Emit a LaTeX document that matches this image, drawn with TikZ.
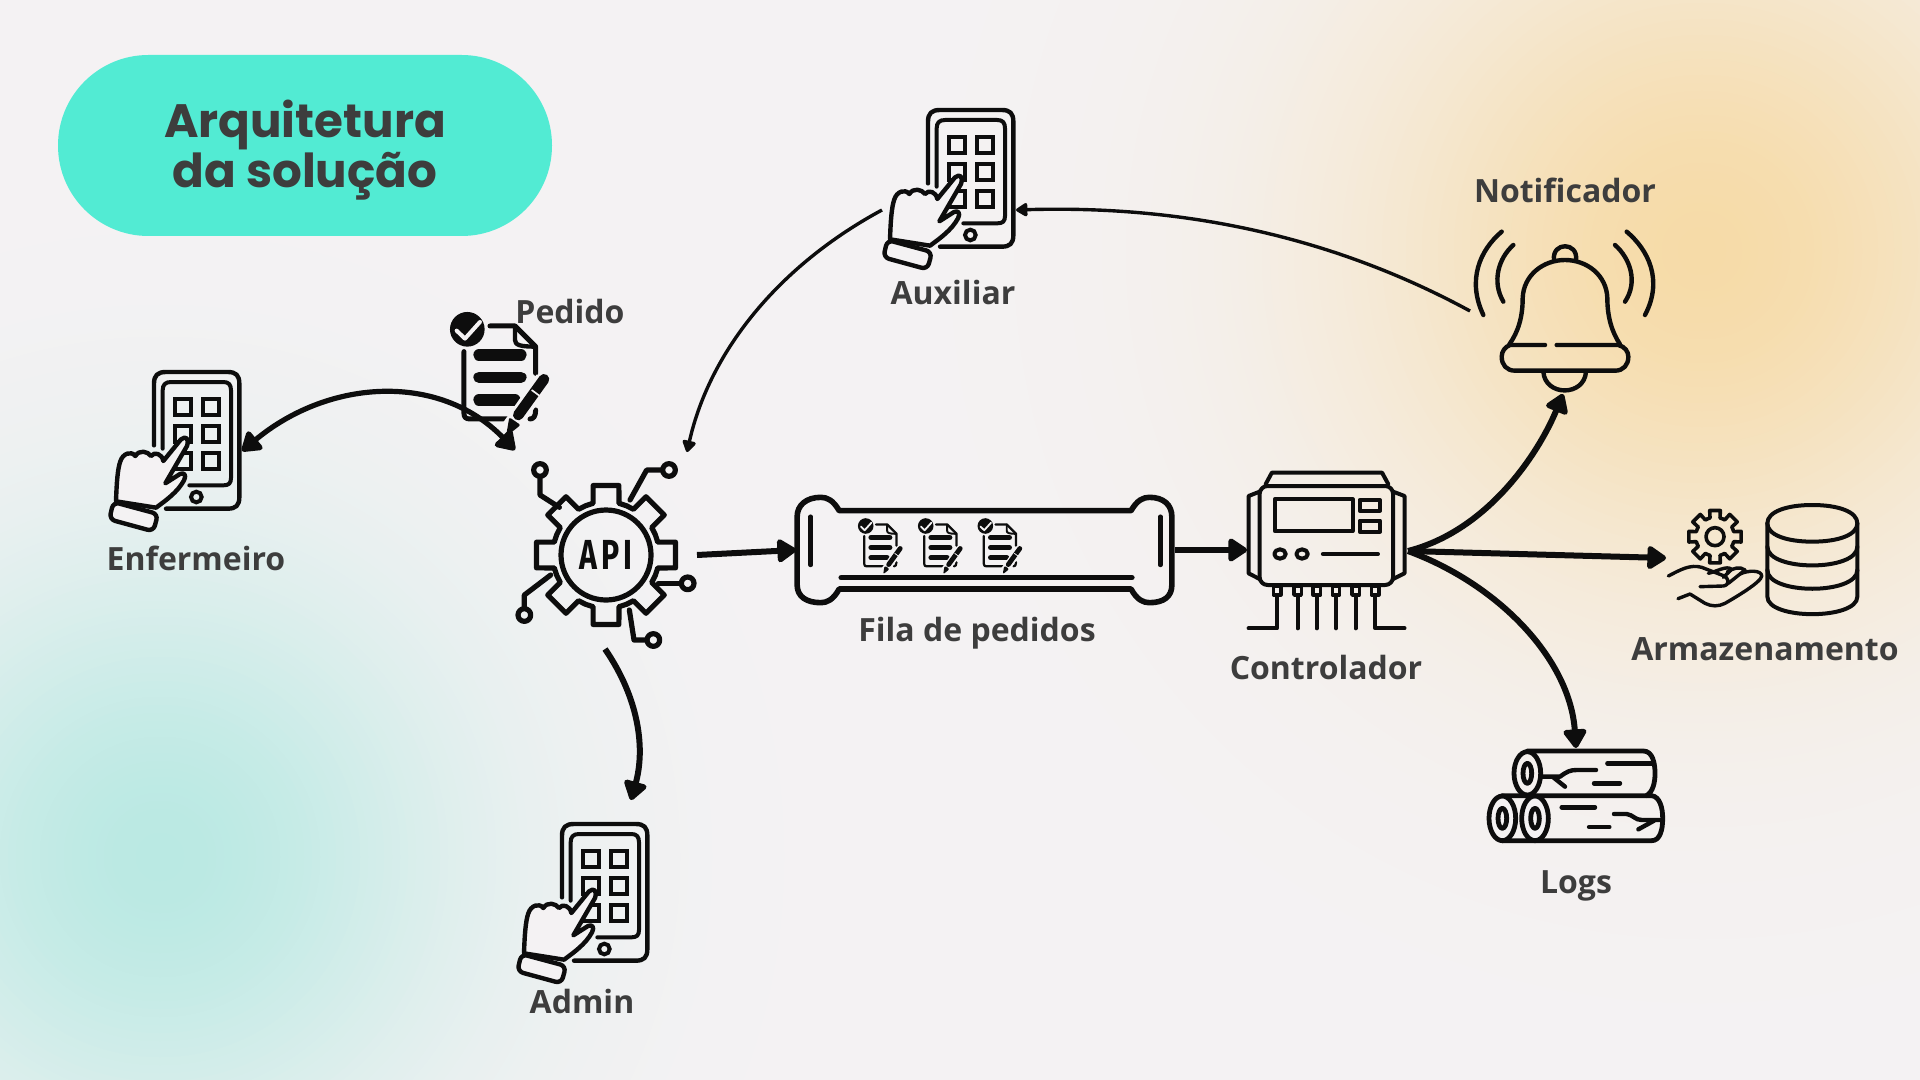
\documentclass[tikz,border=0pt]{standalone}
\usepackage{fontspec}
\setmainfont{Open Sans}
\newfontfamily\titlefont{Poppins}
\newfontfamily\apifont[FakeStretch=.72,LetterSpace=10]{Fira Sans}
\usetikzlibrary{arrows.meta}
\definecolor{bgc}{HTML}{F4F2F3}
\definecolor{ink}{HTML}{0D0D0D}
\definecolor{txt}{HTML}{3D3D3D}
\definecolor{pill}{HTML}{52EBD3}
\definecolor{oa}{HTML}{F6DBA8}
\definecolor{ta}{HTML}{BAE9E3}
\tikzset{
  zoomz/.style args={#1/#2}{shift={(#1,#2)},x=.16667pt,y=-.16667pt},
  ic/.style={draw=ink,line width=2.2pt,line cap=round,line join=round},
  lbl/.style={font=\fontsize{16}{18}\selectfont\bfseries,text=txt,anchor=base,inner sep=0pt},
  thinarrow/.style={draw=ink,line width=1.7pt,-{Triangle[round,length=6.5pt,width=7.5pt]}},
  boldarrow/.style={draw=ink,line width=3pt,-{Triangle[round,length=10.5pt,width=13pt]}},
  bothbold/.style={draw=ink,line width=2.6pt,{Triangle[round,length=10.5pt,width=13pt]}-{Triangle[round,length=10.5pt,width=13pt]}}
}
\newcommand{\tabletpic}[2]{%
\begin{scope}[zoomz={#1}/{#2}]
  \draw[ic] (234,310) -- (234,125) .. controls (234,100) and (245,90) .. (270,90) -- (455,90) .. controls (480,90) and (490,100) .. (490,125) -- (490,465) .. controls (490,490) and (480,500) .. (455,500) -- (270,500);
  \draw[ic,line width=2pt] (260,320) -- (260,145) .. controls (260,128) and (268,120) .. (285,120) -- (442,120) .. controls (458,120) and (465,128) .. (465,145) -- (465,408) .. controls (465,424) and (458,430) .. (442,430) -- (340,430);
  \foreach \qx/\qy in {297/172,380/172,297/252,380/252,297/332,380/332}
    \draw[draw=ink,line width=2pt] (\qx,\qy) rectangle ++(48,48);
  \draw[draw=ink,line width=2pt] (361,465) circle[radius=16];
  \draw[ic,fill=bgc] (120,478) .. controls (122,420) and (125,380) .. (133,358) .. controls (140,335) and (165,325) .. (178,342) .. controls (190,322) and (215,328) .. (225,342) .. controls (235,328) and (258,335) .. (262,357) -- (315,292) .. controls (330,280) and (340,290) .. (333,312) -- (268,424) -- (312,396) .. controls (325,390) and (332,400) .. (324,415) .. controls (305,450) and (270,475) .. (240,497) -- cycle;
  \draw[ic,fill=bgc,rounded corners=3pt] (112,480) -- (246,516) -- (232,568) -- (100,532) -- cycle;
\end{scope}}
\newcommand{\docpic}[3]{%
\pgfmathsetmacro\uu{#3*0.16667}
\begin{scope}[shift={(#1,#2)},x=\uu pt,y=-\uu pt]
\begin{scope}[shift={(-142,-118)},line cap=round,line join=round]
  \draw[ink,line width=15*\uu pt] (210,108) -- (285,108) -- (347,170) -- (347,250);
  \draw[ink,line width=13*\uu pt] (285,108) -- (285,150) .. controls (285,165) and (300,170) .. (347,170);
  \draw[ink,line width=15*\uu pt] (132,185) -- (132,370) .. controls (132,382) and (138,387) .. (150,387) -- (280,387);
  \draw[ink,line width=15*\uu pt] (347,360) .. controls (347,380) and (340,387) .. (330,387);
  \foreach \ly/\lr in {195/303,262/303,330/285}
    \draw[ink,line width=34*\uu pt] (177,\ly) -- (\lr,\ly);
  \fill[ink] (142,118) circle[radius=52];
  \draw[bgc,line width=12*\uu pt] (110,122) -- (135,146) -- (180,96);
  \draw[bgc,line width=52*\uu pt,line cap=butt] (372,268) -- (262,425);
  \draw[ink,line width=32*\uu pt] (372,268) -- (295,375);
  \draw[bgc,line width=5*\uu pt,line cap=butt] (335,300) -- (362,320);
  \fill[ink,rounded corners=1pt] (268,382) -- (302,405) -- (258,440) -- cycle;
\end{scope}
\end{scope}}
\newcommand{\gearline}[6]{% cx cy root outer d1 d2
\begin{scope}[shift={(#1,#2)}]
  \draw[ic,line width=#6] (-22.5:#3)
  \foreach \ga in {0,45,...,315}{ -- (\ga-#5:#3) -- (\ga-#5+3.5:#4) -- (\ga+#5-3.5:#4) -- (\ga+#5:#3) -- (\ga+22.5:#3)} -- cycle;
\end{scope}}
\begin{document}
\begin{tikzpicture}[x=.5pt,y=-.5pt]
\useasboundingbox (0,0) rectangle (1920,1080);
\fill[bgc] (0,0) rectangle (1920,1080);
\begin{scope}
  \clip (0,0) rectangle (1920,1080);
  \foreach \rr in {800,792,...,4}{
    \pgfmathsetmacro\pp{100*exp(-(\rr/345)*(\rr/345))}
    \fill[oa!\pp!bgc] (1702,251) circle[radius=\rr];
  }
  \foreach \rr in {680,672,...,4}{
    \pgfmathsetmacro\pp{100*exp(-(\rr/295)*(\rr/295))}
    \fill[ta!\pp!bgc] (160,857) circle[radius=\rr];
  }
\end{scope}
% title
\fill[pill,rounded corners=45.2pt] (58,55) rectangle (552,236);
\node[font=\titlefont\fontsize{23.4}{25}\selectfont\bfseries,text=txt,align=center,inner sep=0pt] (title) at (305,150) {Arquitetura\\da solução};

% tablets
\tabletpic{850}{80}
\tabletpic{76}{342}
\tabletpic{484}{794}

% order documents
\docpic{467.3}{329.3}{1}
\docpic{865.7}{526}{.45}
\docpic{925.7}{526}{.45}
\docpic{985.3}{526}{.45}

% API gear
\begin{scope}[zoomz={420}/{290}]
  \gearline{558}{795}{160}{212}{14}{2.6pt}
  \draw[ic,line width=2.6pt] (558,795) circle[radius=135];
  \foreach \cx/\cy in {360/540,747/540,803/880,700/1050,313/975}
    \draw[ic,line width=2.6pt] (\cx,\cy) circle[radius=19];
  \draw[ic,line width=2.6pt] (360,560) -- (360,615) -- (418,652);
  \draw[ic,line width=2.6pt] (727,540) -- (680,540) -- (630,630);
  \draw[ic,line width=2.6pt] (783,880) -- (715,880);
  \draw[ic,line width=2.6pt] (680,1050) -- (642,1050) -- (628,960);
  \draw[ic,line width=2.6pt] (313,955) -- (313,915) -- (392,855);
  \node[font=\apifont\fontsize{21}{21}\selectfont\bfseries,text=ink,inner sep=0pt] (apitext) at (558,795) {API};
\end{scope}

% queue and controller
\begin{scope}[shift={(780,470)},x=.20408pt,y=-.16667pt]
  \draw[ic,line width=2.8pt] (145,122) -- (860,122) .. controls (875,90) and (890,82) .. (905,82) .. controls (940,82) and (960,105) .. (960,140) -- (960,345) .. controls (960,380) and (940,398) .. (905,398) .. controls (890,398) and (875,390) .. (860,357) -- (145,357) .. controls (130,390) and (115,398) .. (100,398) .. controls (65,398) and (42,380) .. (42,345) -- (42,140) .. controls (42,105) and (65,82) .. (100,82) .. controls (115,82) and (130,90) .. (145,122) -- cycle;
  \draw[ic,line width=2.2pt] (75,140) -- (75,285);
  \draw[ic,line width=2.2pt] (932,140) -- (932,285);
  \draw[ic,line width=2.8pt] (150,323) -- (862,323);
  % controller
  \draw[ic,line width=2pt] (1190,42) -- (1205,8) -- (1475,8) -- (1490,42);
  \draw[ic,line width=2pt,rounded corners=4pt] (1175,48) rectangle (1502,345);
  \draw[ic,line width=2pt] (1175,65) -- (1148,78) -- (1148,310) -- (1175,327);
  \draw[ic,line width=2pt] (1502,65) -- (1530,78) -- (1530,310) -- (1502,327);
  \draw[ic,line width=2pt] (1212,88) rectangle (1403,183);
  \draw[ic,line width=2pt] (1420,90) rectangle (1470,122);
  \draw[ic,line width=2pt] (1420,152) rectangle (1470,185);
  \draw[ic,line width=2pt] (1225,252) ellipse[x radius=14,y radius=14];
  \draw[ic,line width=2pt] (1279,252) ellipse[x radius=14,y radius=14];
  \draw[ic,line width=2pt] (1330,252) -- (1465,252);
  \foreach \px in {1218,1268,1315,1362,1410,1458}{
    \draw[ic,line width=1.7pt] (\px-9,348) rectangle (\px+9,375);
  }
  \foreach \px in {1268,1315,1362,1410}
    \draw[ic,line width=2pt] (\px,375) -- (\px,475);
  \draw[ic,line width=2pt] (1218,375) -- (1218,475) -- (1148,475);
  \draw[ic,line width=2pt] (1458,375) -- (1458,475) -- (1530,475);
\end{scope}

% bell
\begin{scope}[zoomz={1450}/{210}]
  \draw[ic] (155,65) .. controls (90,120) and (50,210) .. (100,315);
  \draw[ic] (190,105) .. controls (145,145) and (125,215) .. (160,275);
  \draw[ic] (530,65) .. controls (595,120) and (640,210) .. (585,315);
  \draw[ic] (495,105) .. controls (540,145) and (565,215) .. (525,275);
  \draw[ic] (312,150) .. controls (305,95) and (385,95) .. (378,150);
  \draw[ic] (178,403) .. controls (205,365) and (218,320) .. (218,265) .. controls (220,195) and (280,150) .. (345,150) .. controls (410,150) and (470,195) .. (472,265) .. controls (472,320) and (485,365) .. (510,403);
  \draw[ic] (285,405) -- (180,405) .. controls (165,410) and (155,425) .. (155,440) .. controls (155,465) and (170,482) .. (195,482) -- (495,482) .. controls (520,482) and (535,465) .. (535,440) .. controls (535,425) and (525,410) .. (505,405) -- (320,405);
  \draw[ic] (280,485) .. controls (285,560) and (403,560) .. (408,485);
\end{scope}

% storage
\begin{scope}[zoomz={1640}/{490}]
  \draw[ic,line width=2pt] (517,45) .. controls (440,45) and (382,65) .. (382,100) .. controls (382,135) and (440,155) .. (517,155) .. controls (594,155) and (652,135) .. (652,100) .. controls (652,65) and (594,45) .. (517,45) -- cycle;
  \draw[ic,line width=2pt] (382,100) -- (382,320) .. controls (382,390) and (652,390) .. (652,320) -- (652,100);
  \draw[ic,line width=2pt] (382,170) .. controls (382,245) and (652,245) .. (652,170);
  \draw[ic,line width=2pt] (382,240) .. controls (382,315) and (652,315) .. (652,240);
  \gearline{225}{140}{58}{80}{15}{1.8pt}
  \draw[ic,line width=1.8pt] (225,140) circle[radius=27];
  \draw[ic,line width=1.7pt] (85,258) .. controls (120,240) and (150,222) .. (185,232) -- (245,255) .. controls (270,262) and (270,285) .. (250,288) -- (180,290);
  \draw[ic,line width=1.7pt] (205,250) .. controls (230,245) and (260,225) .. (275,238) -- (250,262);
  \draw[ic,line width=1.7pt] (262,245) .. controls (280,235) and (300,228) .. (315,240) -- (265,280);
  \draw[ic,line width=1.7pt] (300,252) .. controls (325,240) and (365,240) .. (365,258) .. controls (365,275) and (290,320) .. (255,340) .. controls (235,350) and (215,350) .. (195,340) -- (150,312) -- (114,326);
\end{scope}

% logs
\begin{scope}[zoomz={1470}/{730}]
  \draw[ic,line width=2.4pt] (172,63) -- (520,63) .. controls (548,63) and (555,100) .. (555,130) .. controls (555,160) and (548,185) .. (530,197);
  \draw[ic,line width=2.4pt] (172,130) ellipse[x radius=40,y radius=65];
  \draw[ic,line width=2.4pt] (172,130) ellipse[x radius=13,y radius=30];
  \draw[ic,line width=2.4pt] (97,197) -- (545,197) .. controls (570,200) and (578,235) .. (578,265) .. controls (578,300) and (570,332) .. (545,332) -- (97,332);
  \draw[ic,line width=2.4pt,fill=bgc] (97,265) ellipse[x radius=40,y radius=67];
  \draw[ic,line width=2.4pt] (97,265) ellipse[x radius=13,y radius=30];
  \draw[ic,line width=2.4pt,fill=bgc] (195,265) ellipse[x radius=40,y radius=67];
  \draw[ic,line width=2.4pt] (195,265) ellipse[x radius=13,y radius=30];
  \draw[ic] (215,140) -- (270,140) .. controls (290,125) and (300,120) .. (320,120) -- (378,120);
  \draw[ic] (250,142) -- (285,170);
  \draw[ic] (412,100) -- (545,100);
  \draw[ic] (372,160) -- (450,160);
  \draw[ic] (275,232) -- (375,232);
  \draw[ic] (432,252) -- (470,252) .. controls (490,255) and (495,270) .. (515,270) -- (572,270);
  \draw[ic] (505,298) -- (552,272);
  \draw[ic] (357,291) -- (418,291);
\end{scope}

% connector ends
\coordinate (bellout) at (1470,311);
\coordinate (auxin) at (1016,210);
\coordinate (auxout) at (882,210);
\coordinate (apiin) at (687,452);
\coordinate (tabarrow) at (242,451);
\coordinate (pedarrow) at (515,450);
\coordinate (apiqueue) at (697,555);
\coordinate (queuein) at (796,550);
\coordinate (queueout) at (1175,550);
\coordinate (ctrlin) at (1247,550);
\coordinate (ctrlout) at (1408,551);
\coordinate (bellin) at (1563,394);
\coordinate (storein) at (1666,558);
\coordinate (logsin) at (1576,748);
\coordinate (apiout) at (605,649);
\coordinate (adminin) at (631,800);

\draw[thinarrow] (bellout) .. controls (1330,235) and (1180,205) .. (auxin);
\draw[thinarrow] (auxout) .. controls (780,265) and (710,350) .. (apiin);
\draw[bothbold] (tabarrow) .. controls (330,378) and (440,373) .. (pedarrow);
\draw[boldarrow] (apiqueue) -- (queuein);
\draw[boldarrow] (queueout) -- (ctrlin);
\draw[boldarrow] (ctrlout) .. controls (1490,530) and (1540,450) .. (bellin);
\draw[boldarrow] (ctrlout) -- (storein);
\draw[boldarrow] (ctrlout) .. controls (1500,585) and (1570,660) .. (logsin);
\draw[boldarrow] (apiout) .. controls (640,700) and (645,750) .. (adminin);

% labels
\node[lbl] (lenf) at (196,570) {Enfermeiro};
\node[lbl] (laux) at (953,305) {Auxiliar};
\node[lbl] (lped) at (570,324) {Pedido};
\node[lbl] (lnot) at (1565,203) {Notificador};
\node[lbl] (lfil) at (977,641) {Fila de pedidos};
\node[lbl] (lctl) at (1326,679) {Controlador};
\node[lbl] (larm) at (1765,660) {Armazenamento};
\node[lbl] (llog) at (1576,893) {Logs};
\node[lbl] (ladm) at (582,1013) {Admin};
\end{tikzpicture}
\end{document}
